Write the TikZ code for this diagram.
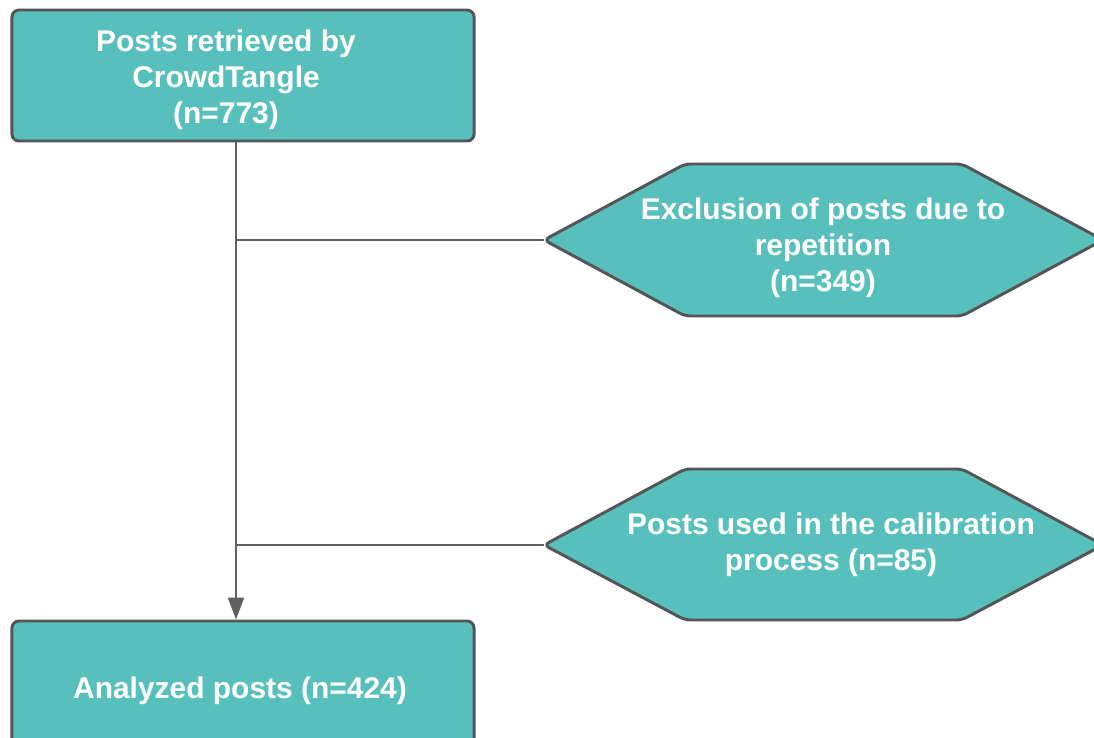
\documentclass[tikz,border=0pt]{standalone}
\usepackage{fontspec}
\setmainfont{Liberation Sans}
\usetikzlibrary{arrows.meta}
\definecolor{tealfill}{RGB}{88,192,188}
\definecolor{edgegray}{RGB}{85,85,85}
\definecolor{linegray}{RGB}{96,96,96}
\tikzset{
	flowtext/.style={align=center,text=white,font=\fontsize{21.3}{25.6}\selectfont\bfseries},
	flowbox/.style={draw=edgegray,line width=2.1pt,fill=tealfill,rounded corners=5pt,minimum width=11.55cm,minimum height=3.275cm},
	hexa/.style={draw=edgegray,line width=2.1pt,fill=tealfill,rounded corners=4pt},
	flowline/.style={draw=linegray,line width=1.5pt}
}
\begin{document}
\begin{tikzpicture}[x=0.025cm,y=-0.025cm]
	\useasboundingbox (0,0) rectangle (1094,738);
	\node[flowbox] (retrieved) at (243,75.5) {};
	\node[flowtext] (retrievedtext) at (226,80) {Posts retrieved by\\CrowdTangle\\(n=773)};
	\node[flowbox] (analyzed) at (243,686.5) {};
	\node[flowtext] (analyzedtext) at (240,691) {Analyzed posts (n=424)};
	\draw[hexa] (544,240) coordinate (repetitiontip) -- (685,164) -- (962,164) -- (1103,240) -- (962,316) -- (685,316) -- cycle;
	\node[flowtext] (repetition) at (823,248) {Exclusion of posts due to\\repetition\\(n=349)};
	\draw[hexa] (544,545) coordinate (calibrationtip) -- (685,469) -- (962,469) -- (1103,545) -- (962,620) -- (685,620) -- cycle;
	\node[flowtext] (calibration) at (831,545) {Posts used in the calibration\\process (n=85)};
	\coordinate (split1) at (236,240);
	\coordinate (split2) at (236,545);
	\draw[flowline,-{Triangle[length=0.55cm,width=0.4cm]}] (retrieved.south -| split1) -- (analyzed.north -| split1);
	\draw[flowline] (split1) -- (repetitiontip);
	\draw[flowline] (split2) -- (calibrationtip);
\end{tikzpicture}
\end{document}
